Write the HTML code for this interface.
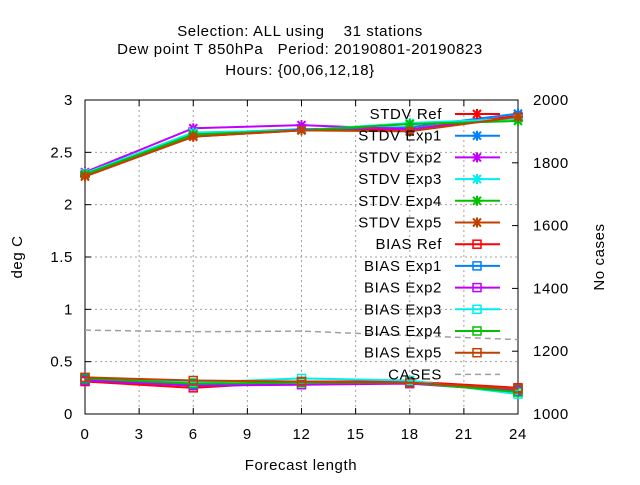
<!DOCTYPE html>
<html><head><meta charset="utf-8"><style>
body{margin:0;background:#fff;}
text{font-family:"Liberation Sans",sans-serif;font-size:15px;letter-spacing:0.6px;fill:#000;}
</style></head><body>
<svg id="chart" width="640" height="480">
<g>
<text x="300" y="36" text-anchor="middle" xml:space="preserve">Selection: ALL using    31 stations</text>
<text x="300" y="54" text-anchor="middle" xml:space="preserve">Dew point T 850hPa   Period: 20190801-20190823</text>
<text x="300" y="75" text-anchor="middle">Hours: {00,06,12,18}</text>
</g>
<g id="grid"></g>
<g id="axes"></g>
<g id="series"></g>
<g id="legend"></g>
<text x="22" y="257" text-anchor="middle" transform="rotate(-90 22 257)">deg C</text>
<text x="604" y="257" text-anchor="middle" transform="rotate(-90 604 257)">No cases</text>
<text x="301" y="470" text-anchor="middle">Forecast length</text>
</svg>
<script>
const hours=[0,6,12,18,24];
const xTicks=[0,3,6,9,12,15,18,21,24];
const yTicks=[0,0.5,1,1.5,2,2.5,3];
const y2Ticks=[1000,1200,1400,1600,1800,2000];
const names=["STDV Ref","STDV Exp1","STDV Exp2","STDV Exp3","STDV Exp4","STDV Exp5","BIAS Ref","BIAS Exp1","BIAS Exp2","BIAS Exp3","BIAS Exp4","BIAS Exp5"];
const colors=["#ff0000","#0080ff","#c000ff","#00eeee","#00c000","#c04000"];
const stdvRef=[2.27,2.65,2.71,2.72,2.85];
const stdvExp1=[2.29,2.68,2.72,2.74,2.87];
const stdvExp2=[2.31,2.73,2.76,2.72,2.83];
const stdvExp3=[2.30,2.69,2.71,2.78,2.82];
const stdvExp4=[2.29,2.67,2.71,2.77,2.80];
const stdvExp5=[2.27,2.65,2.71,2.70,2.84];
const biasRef=[0.31,0.25,0.31,0.31,0.25];
const biasExp1=[0.33,0.28,0.30,0.30,0.23];
const biasExp2=[0.32,0.27,0.28,0.29,0.22];
const biasExp3=[0.35,0.30,0.34,0.32,0.19];
const biasExp4=[0.34,0.29,0.30,0.30,0.21];
const biasExp5=[0.35,0.32,0.31,0.30,0.24];
const cases=[1267,1262,1264,1250,1237];

const NS="http://www.w3.org/2000/svg";
const L=85,R=518,T=100,B=414;
const xs=v=>L+(v/24)*(R-L);
const ys=v=>B-(v/3)*(B-T);
const y2=v=>B-((v-1000)/1000)*(B-T);
function mk(tag,at,parent){const e=document.createElementNS(NS,tag);for(const k in at)e.setAttribute(k,at[k]);parent.appendChild(e);return e;}
const grid=document.getElementById('grid'),axes=document.getElementById('axes'),ser=document.getElementById('series'),leg=document.getElementById('legend');
xTicks.forEach(t=>{
 if(t>0&&t<24){const g=mk('line',{x1:xs(t),x2:xs(t),y1:T,y2:B,stroke:'#a0a0a0','stroke-dasharray':'2,3'},grid);
 
 }
 const tx=mk('text',{x:xs(t),y:B+25,'text-anchor':'middle'},axes);tx.textContent=t;
 
 
 mk('line',{x1:xs(t),x2:xs(t),y1:B,y2:B-6,stroke:'#000'},axes);
 mk('line',{x1:xs(t),x2:xs(t),y1:T,y2:T+6,stroke:'#000'},axes);
});
yTicks.forEach(t=>{
 if(t>0&&t<3){const g=mk('line',{x1:L,x2:R,y1:ys(t),y2:ys(t),stroke:'#a0a0a0','stroke-dasharray':'2,3'},grid);
 
 }
 const tx=mk('text',{x:L-12,y:ys(t)+5,'text-anchor':'end'},axes);tx.textContent=t;
 
 
 mk('line',{x1:L,x2:L+6,y1:ys(t),y2:ys(t),stroke:'#000'},axes);
});
y2Ticks.forEach(t=>{
 const tx=mk('text',{x:R+15,y:y2(t)+5,'text-anchor':'start'},axes);tx.textContent=t;
 
 
 mk('line',{x1:R,x2:R-6,y1:y2(t),y2:y2(t),stroke:'#000'},axes);
});
mk('rect',{x:L,y:T,width:R-L,height:B-T,fill:'none',stroke:'#000'},axes);

function marker(g,x,y,c,type){
 if(type==='x'){mk('path',{d:`M${x-4},${y-4}L${x+4},${y+4}M${x-4},${y+4}L${x+4},${y-4}M${x-5},${y}L${x+5},${y}M${x},${y-5}L${x},${y+5}`,stroke:c,'stroke-width':2},g);}
 else mk('rect',{x:x-4,y:y-4,width:8,height:8,fill:'none',stroke:c,'stroke-width':1.5},g);
}
const stdv=[stdvRef,stdvExp1,stdvExp2,stdvExp3,stdvExp4,stdvExp5];
const bias=[biasRef,biasExp1,biasExp2,biasExp3,biasExp4,biasExp5];
const casesPts=hours.map((h,i)=>xs(h)+','+y2(cases[i])).join(' ');
const cl=mk('polyline',{points:casesPts,fill:'none',stroke:'#a0a0a0','stroke-width':1.5,'stroke-dasharray':'6,4'},ser);


[...bias.map((d,i)=>[d,i,'s','bias']),...stdv.map((d,i)=>[d,i,'x','stdv'])].forEach(([d,i,m,k])=>{
 const g=mk('g',{},ser);
 
 
 mk('polyline',{points:hours.map((h,j)=>xs(h)+','+ys(d[j])).join(' '),fill:'none',stroke:colors[i],'stroke-width':2},g);
 hours.forEach((h,j)=>marker(g,xs(h),ys(d[j]),colors[i],m));
});
names.concat(["CASES"]).forEach((n,i)=>{
 const y=114+i*21.7;
 const g=mk('g',{},leg);
 
 
 const tx=mk('text',{x:442,y:y+5,'text-anchor':'end'},g);tx.textContent=n;
 if(i<12){const c=colors[i%6];mk('line',{x1:455,x2:500,y1:y,y2:y,stroke:c,'stroke-width':2},g);marker(g,477,y,c,i<6?'x':'s');}
 else mk('line',{x1:455,x2:500,y1:y,y2:y,stroke:'#a0a0a0','stroke-width':1.5,'stroke-dasharray':'6,4'},g);
});
</script>
</body></html>
